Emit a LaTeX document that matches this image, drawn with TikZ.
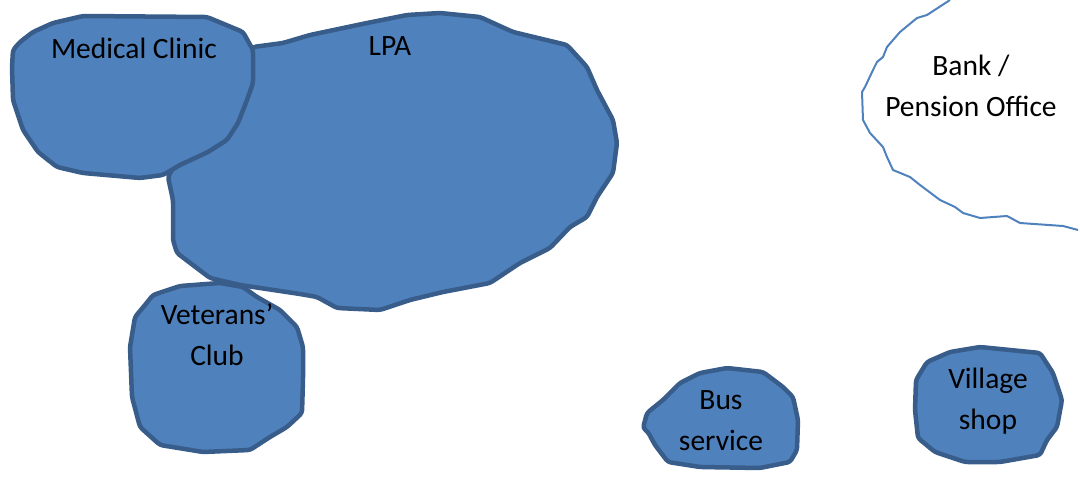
\documentclass[tikz,border=0pt]{standalone}
\usepackage{fontspec}
\setmainfont{Carlito}
\definecolor{blobfill}{HTML}{4F81BD}
\definecolor{blobline}{HTML}{385D8A}
\tikzset{
  blob/.style={fill=blobfill, draw=blobline, line width=4.5pt, line join=round, rounded corners=3pt},
  outline/.style={draw=blobfill, line width=2pt, line join=round},
  lbl/.style={font=\fontsize{29.5}{41}\selectfont, align=center, inner sep=0pt, text=black}
}
\begin{document}
\begin{tikzpicture}[x=1pt,y=-1pt]
\useasboundingbox (0,0) rectangle (1080,484);
% LPA
\path[blob] (253,47) -- (283,43) -- (310,35) -- (367,23) -- (407,15) -- (440,13) -- (480,17) -- (513,32) -- (567,45) -- (587,67) -- (597,90) -- (613,120) -- (617,143) -- (613,173) -- (597,197) -- (587,217) -- (570,227) -- (550,248) -- (520,263) -- (490,283) -- (443,292) -- (410,300) -- (380,310) -- (337,308) -- (317,297) -- (300,294) -- (240,285) -- (210,278) -- (177,253) -- (173,240) -- (173,200) -- (168,177) -- (200,120) -- cycle;
% Medical Clinic
\path[blob] (20,42) -- (33,32) -- (53,23) -- (83,16) -- (207,17) -- (243,32) -- (253,50) -- (253,83) -- (247,100) -- (238,123) -- (227,140) -- (208,152) -- (180,165) -- (163,175) -- (140,178) -- (83,173) -- (57,167) -- (38,152) -- (23,130) -- (13,100) -- (12,67) -- (13,50) -- cycle;
% Veterans' Club
\path[blob] (153,295) -- (180,286) -- (220,283) -- (243,287) -- (257,297) -- (280,310) -- (297,327) -- (303,347) -- (303,380) -- (302,413) -- (287,427) -- (270,437) -- (250,450) -- (203,452) -- (160,445) -- (140,427) -- (132,397) -- (130,347) -- (135,317) -- (145,305) -- cycle;
% Bus service
\path[blob] (643,428) -- (647,413) -- (663,400) -- (680,383) -- (700,373) -- (727,368) -- (763,372) -- (783,387) -- (793,397) -- (798,420) -- (797,450) -- (790,462) -- (760,468) -- (700,467) -- (668,462) -- (655,445) -- (648,432) -- cycle;
% Village shop
\path[blob] (927,362) -- (950,352) -- (980,347) -- (1040,353) -- (1053,373) -- (1062,400) -- (1057,427) -- (1047,440) -- (1040,455) -- (1000,462) -- (965,462) -- (935,452) -- (918,438) -- (915,410) -- (916,380) -- cycle;
% Bank / Pension Office
\draw[outline] (950,0) -- (927,15) -- (917,18) -- (900,32) -- (887,47) -- (883,57) -- (877,62) -- (873,70) -- (865,87) -- (862,92) -- (863,120) -- (870,133) -- (883,147) -- (887,157) -- (893,170) -- (910,177) -- (920,185) -- (940,200) -- (955,207) -- (963,213) -- (980,218) -- (1007,216) -- (1020,223) -- (1063,226) -- (1078,230);
% labels
\node[lbl] (clinic) at (134,48) {Medical Clinic};
\node[lbl] (lpa) at (390,46) {LPA};
\node[lbl] (bank) at (971,86) {Bank /\\Pension Office};
\node[lbl] (club) at (217,335) {Veterans’\\Club};
\node[lbl] (bus) at (721,421) {Bus\\service};
\node[lbl] (shop) at (988,401) {Village\\shop};
\end{tikzpicture}
\end{document}
